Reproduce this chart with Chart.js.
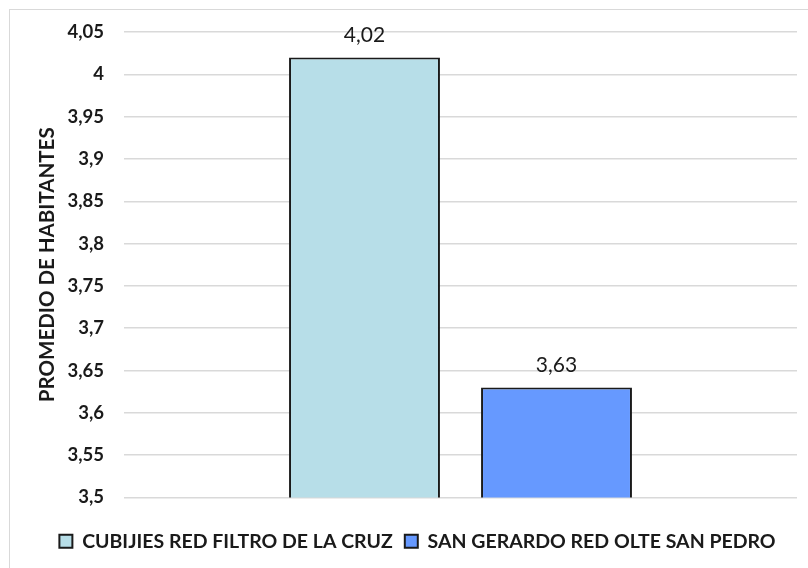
<!DOCTYPE html>
<html>
<head>
<meta charset="utf-8">
<script src="https://cdn.jsdelivr.net/npm/chart.js@4/dist/chart.umd.min.js"></script>
<style>
  html, body { margin: 0; padding: 0; background: #ffffff; overflow: hidden; }
  #wrap { position: relative; width: 808px; height: 568px; }
  #frame { position: absolute; left: 9px; top: 9px; width: 820px; height: 580px;
           border: 1px solid #d9d9d9; box-sizing: border-box; }
  canvas { position: absolute; left: 0; top: 0; }
</style>
</head>
<body>
<div id="wrap">
  <div id="frame"></div>
  <canvas id="chart" width="808" height="568"></canvas>
</div>
<script>
// One category, two series (average inhabitants per household)
const categories = [''];
const seriesNames = ['CUBIJIES RED FILTRO DE LA CRUZ', 'SAN GERARDO RED OLTE SAN PEDRO'];
const seriesValues = [4.02, 3.63];
const seriesColors = ['#b7dee8', '#6699ff'];
const yMin = 3.5;
const yMax = 4.05;
const yStep = 0.05;
const yTitle = 'PROMEDIO DE HABITANTES';

const FONT = 'Lato, "Open Sans", sans-serif';
const TEXT = '#1a1a1a';

const fmt = v => Number(v.toFixed(2)).toString().replace('.', ',');

// Value labels above each bar
const valueLabels = {
  id: 'valueLabels',
  afterDatasetsDraw(chart) {
    const ctx = chart.ctx;
    ctx.save();
    ctx.font = '21px ' + FONT;
    ctx.fillStyle = TEXT;
    ctx.textAlign = 'center';
    ctx.textBaseline = 'bottom';
    chart.data.datasets.forEach((ds, i) => {
      const meta = chart.getDatasetMeta(i);
      meta.data.forEach((bar, j) => {
        ctx.fillText(fmt(ds.data[j]), bar.x, bar.y - 12);
      });
    });
    ctx.restore();
  }
};

new Chart(document.getElementById('chart'), {
  type: 'bar',
  data: {
    labels: categories,
    datasets: seriesNames.map((name, i) => ({
      label: name,
      data: [seriesValues[i]],
      backgroundColor: seriesColors[i],
      borderColor: '#1a1a1a',
      borderWidth: 2,
      categoryPercentage: 0.5706,
      barPercentage: 0.786
    }))
  },
  options: {
    responsive: false,
    animation: false,
    layout: { padding: { left: 38, right: 11, top: 32, bottom: 7 } },
    plugins: {
      legend: {
        position: 'bottom',
        labels: {
          font: { family: FONT, size: 19.5, weight: 'bold' },
          color: TEXT,
          boxWidth: 13,
          boxHeight: 13,
          padding: 12
        }
      },
      tooltip: { enabled: false }
    },
    scales: {
      x: {
        grid: { display: false },
        border: { display: false },
        ticks: { display: false },
        afterFit: s => { s.height = 22; }
      },
      y: {
        min: yMin,
        max: yMax,
        ticks: {
          stepSize: yStep,
          padding: 20,
          color: TEXT,
          font: { family: FONT, size: 18.5, weight: 'bold' },
          callback: v => fmt(v)
        },
        grid: { color: '#d9d9d9', lineWidth: 1.5, drawTicks: false },
        border: { display: false },
        title: {
          display: true,
          text: yTitle,
          color: TEXT,
          font: { family: FONT, size: 20.5, weight: 'bold', lineHeight: 1 },
          padding: { top: -1, bottom: 0 }
        },
        afterFit: s => { s.width = 86; }
      }
    }
  },
  plugins: [valueLabels]
});
</script>
</body>
</html>
